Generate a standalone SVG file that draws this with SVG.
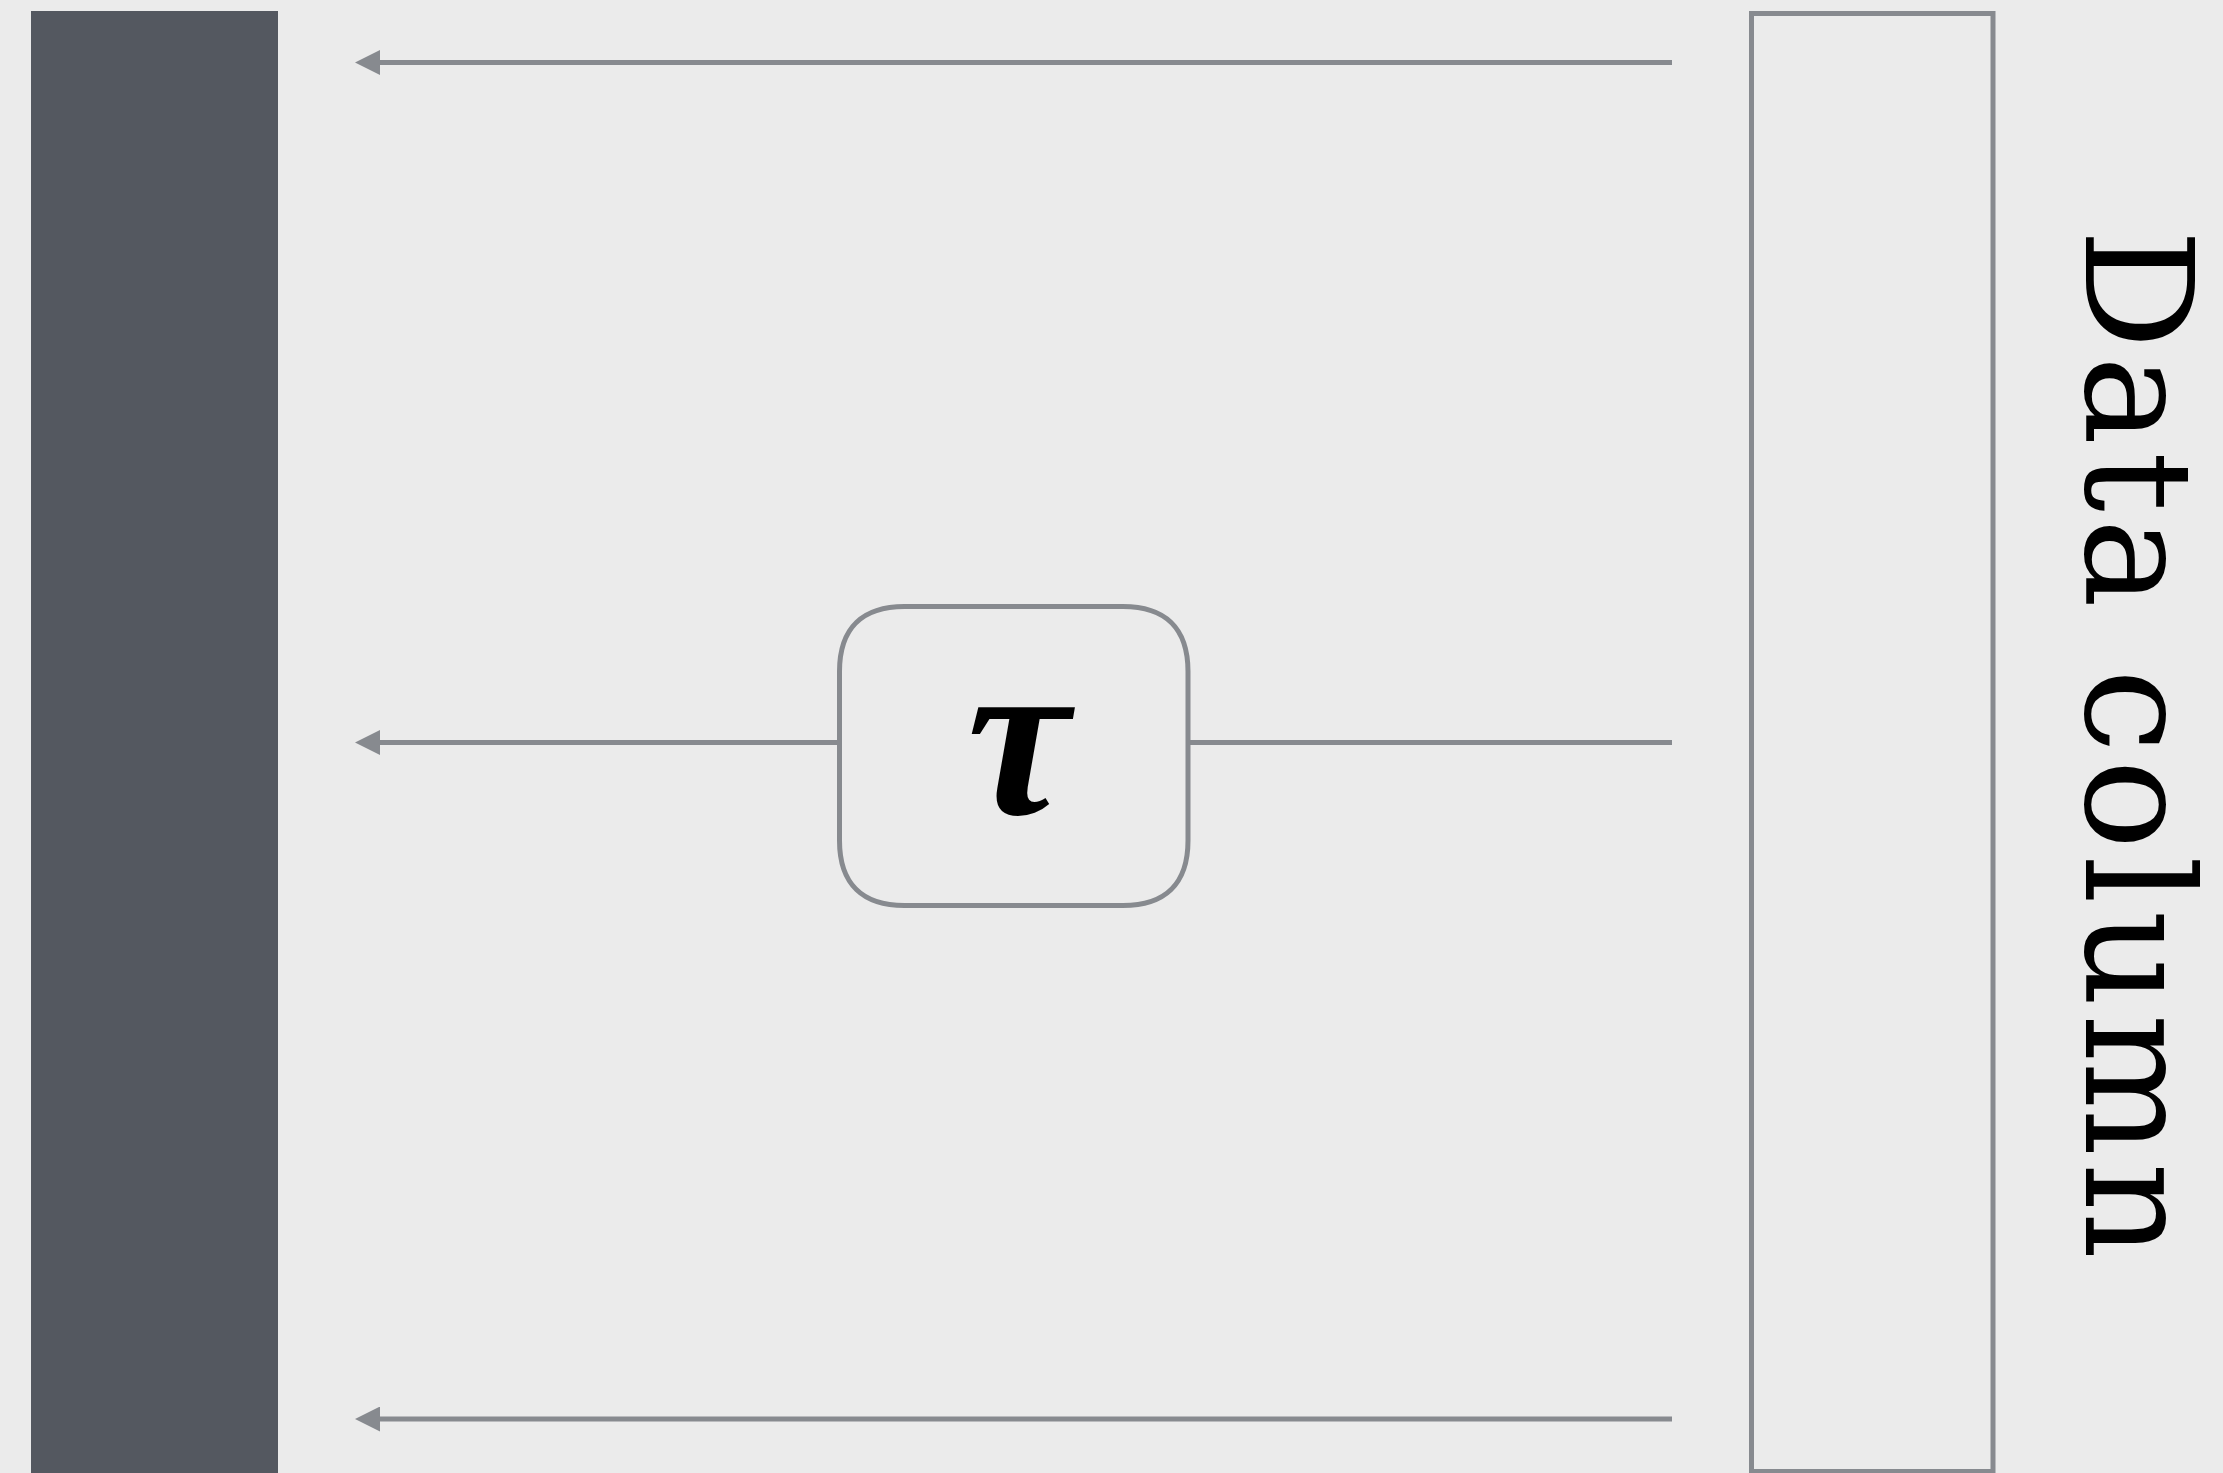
<svg xmlns="http://www.w3.org/2000/svg" width="2223" height="1473" viewBox="0 0 2223 1473">
  <style>
    .conn { stroke: #878a8f; stroke-width: 5; fill: none; }
    .frame { stroke: #878a8f; stroke-width: 5; fill: #ebebeb; }
    .lbl { font-family: "DejaVu Serif", "Liberation Serif", serif; fill: #000; }
    .math { font-family: "Liberation Serif", "DejaVu Serif", serif; font-style: italic; font-weight: bold; fill: #000; }
  </style>
  <defs>
    <marker id="arr" markerUnits="userSpaceOnUse" markerWidth="25" markerHeight="25" refX="0" refY="12.5" orient="auto">
      <path d="M0,0 L25,12.5 L0,25 Z" fill="#878a8f"/>
    </marker>
  </defs>
  <rect x="0" y="0" width="2223" height="1473" fill="#ebebeb"/>

  <g id="sink">
    <rect x="31" y="11" width="247" height="1470" fill="#545860"/>
  </g>

  <g id="data-column">
    <rect class="frame" x="1751.5" y="13.5" width="241.5" height="1458"/>
    <text class="lbl" font-size="150" x="2086" y="229" transform="rotate(90 2086 229)" textLength="1030" lengthAdjust="spacing">Data column</text>
  </g>

  <g id="connectors">
    <line class="conn" x1="1672" y1="62.5" x2="380" y2="62.5" marker-end="url(#arr)"/>
    <line class="conn" x1="1672" y1="742.5" x2="1188" y2="742.5"/>
    <line class="conn" x1="839.5" y1="742.5" x2="380" y2="742.5" marker-end="url(#arr)"/>
    <line class="conn" x1="1672" y1="1419" x2="380" y2="1419" marker-end="url(#arr)"/>
  </g>

  <g id="tau">
    <path class="frame" d="M 904.5 606.5 H 1123 C 1164 606.5 1188 627 1188 671.5 V 840.5 C 1188 885 1164 905.5 1123 905.5 H 904.5 C 863.5 905.5 839.5 885 839.5 840.5 V 671.5 C 839.5 627 863.5 606.5 904.5 606.5 Z"/>
    <text class="math" font-size="230" x="1018" y="814" text-anchor="middle">τ</text>
  </g>
</svg>
